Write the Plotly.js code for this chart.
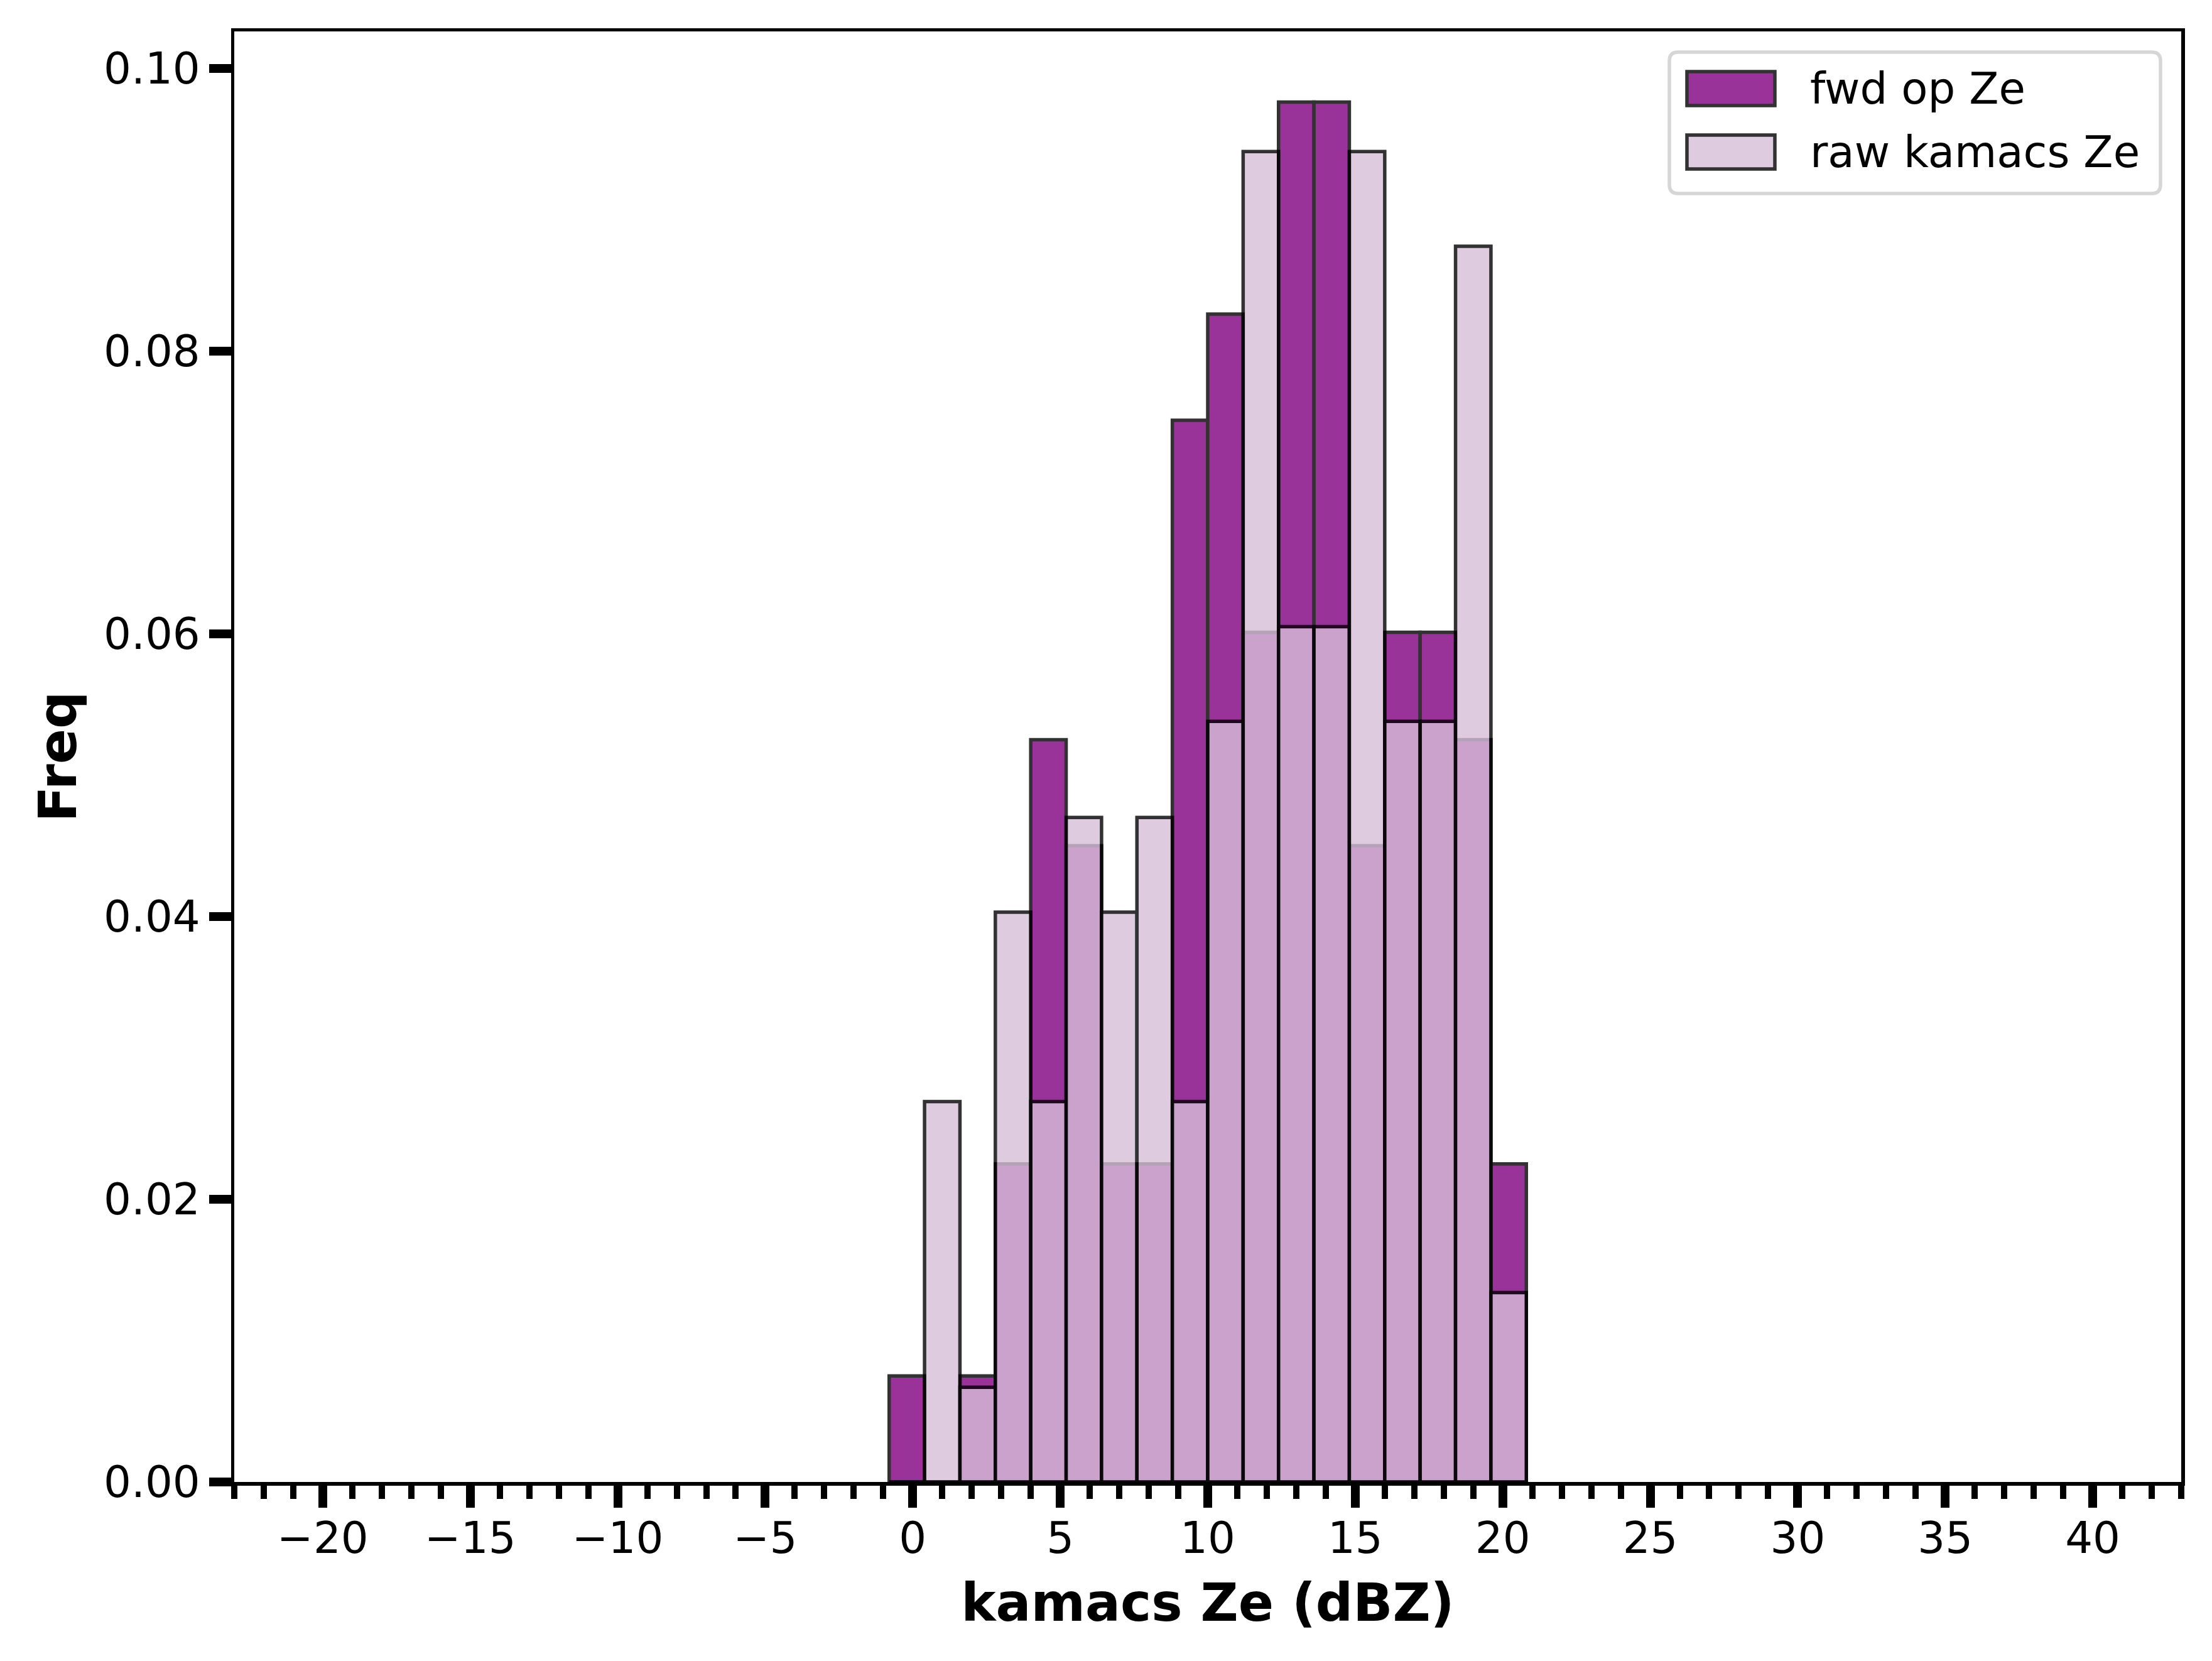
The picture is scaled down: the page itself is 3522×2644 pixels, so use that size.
<!DOCTYPE html>
<html>
<head>
<meta charset="utf-8">
<script src="https://cdn.plot.ly/plotly-3.0.1.min.js"></script>
<style>
  html, body { margin: 0; padding: 0; background: #fff; }
  #chart { width: 3522px; height: 2644px; }
</style>
</head>
<body>
<div id="chart"></div>
<script>
// histogram bins (centres, dBZ) and normalised frequencies
const binCenters = [-0.2, 1.0, 2.2, 3.4, 4.6, 5.8, 7.0, 8.2, 9.4, 10.6, 11.8, 13.0, 14.2, 15.4, 16.6, 17.8, 19.0, 20.2];
const binWidth = 1.2;
const fwdOpFreq = [0.0075, 0, 0.0075, 0.0225, 0.0525, 0.0450, 0.0225, 0.0225, 0.0751, 0.0826, 0.0601, 0.0976, 0.0976, 0.0450, 0.0601, 0.0601, 0.0525, 0.0225];
const rawKamacsFreq = [0, 0.0269, 0.0067, 0.0403, 0.0269, 0.0470, 0.0403, 0.0470, 0.0269, 0.0538, 0.0941, 0.0605, 0.0605, 0.0941, 0.0538, 0.0538, 0.0874, 0.0134];
const seriesNames = ['fwd op Ze', 'raw kamacs Ze'];
const seriesColors = ['purple', 'thistle'];

const W = 3522, H = 2644;
const M = { l: 373, r: 49, t: 50, b: 285 };
const plotW = W - M.l - M.r;
const plotH = H - M.t - M.b;
const px = x => (x - M.l) / plotW;
const py = y => (H - M.b - y) / plotH;

const FONT = 'DejaVu Sans, Liberation Sans, sans-serif';

// rounded legend frame, built in pixels then turned into paper coords
function roundedBox(x0, y0, x1, y1, r) {
  const p = (x, y) => `${px(x)},${py(y)}`;
  return `M${p(x0 + r, y0)} L${p(x1 - r, y0)} Q${p(x1, y0)} ${p(x1, y0 + r)}`
    + ` L${p(x1, y1 - r)} Q${p(x1, y1)} ${p(x1 - r, y1)}`
    + ` L${p(x0 + r, y1)} Q${p(x0, y1)} ${p(x0, y1 - r)}`
    + ` L${p(x0, y0 + r)} Q${p(x0, y0)} ${p(x0 + r, y0)} Z`;
}

const traces = [fwdOpFreq, rawKamacsFreq].map((freq, i) => ({
  type: 'bar',
  x: binCenters,
  y: freq,
  width: binWidth,
  name: seriesNames[i],
  opacity: 0.8,
  marker: { color: seriesColors[i], line: { color: 'black', width: 5.5 } },
  hoverinfo: 'skip',
}));

const legendRows = [141, 242];
const shapes = [{
  type: 'path', xref: 'paper', yref: 'paper',
  path: roundedBox(2658, 83, 3440, 308, 14),
  fillcolor: 'rgba(255,255,255,0.8)',
  line: { color: '#d6d6d6', width: 5.5 },
}];
const annotations = [];
legendRows.forEach((yc, i) => {
  shapes.push({
    type: 'rect', xref: 'paper', yref: 'paper',
    x0: px(2686), x1: px(2826), y0: py(yc - 27), y1: py(yc + 27),
    fillcolor: seriesColors[i], opacity: 0.8,
    line: { color: 'black', width: 5.5 },
  });
  annotations.push({
    xref: 'paper', yref: 'paper', x: px(2880), y: py(yc),
    xanchor: 'left', yanchor: 'middle', showarrow: false,
    text: seriesNames[i],
    font: { family: FONT, size: 69, color: 'black' },
  });
});

const axisCommon = {
  ticks: 'outside',
  tickcolor: 'black',
  ticklen: 35,
  tickwidth: 14,
  showline: true,
  linecolor: 'black',
  linewidth: 5.5,
  mirror: true,
  showgrid: false,
  zeroline: false,
  automargin: false,
  tickfont: { family: FONT, size: 69, color: 'black' },
};

const layout = {
  width: W,
  height: H,
  margin: M,
  paper_bgcolor: 'white',
  plot_bgcolor: 'white',
  barmode: 'overlay',
  showlegend: false,
  xaxis: Object.assign({}, axisCommon, {
    range: [-23, 43],
    tickmode: 'linear',
    tick0: 0,
    dtick: 5,
    ticklabelstandoff: -10,
    minor: { tick0: 0, dtick: 1, ticks: 'outside', ticklen: 21, tickwidth: 10, tickcolor: 'black', showgrid: false },
    title: { text: 'kamacs Ze (dBZ)', standoff: 36, font: { family: FONT, size: 83, weight: 'bold', color: 'black' } },
  }),
  yaxis: Object.assign({}, axisCommon, {
    range: [0, 0.1026],
    tickmode: 'linear',
    tick0: 0,
    dtick: 0.02,
    tickformat: '.2f',
    title: { text: 'Freq', standoff: 18, font: { family: FONT, size: 83, weight: 'bold', color: 'black' } },
  }),
  shapes: shapes,
  annotations: annotations,
};

Plotly.newPlot('chart', traces, layout, { staticPlot: true });
</script>
</body>
</html>
